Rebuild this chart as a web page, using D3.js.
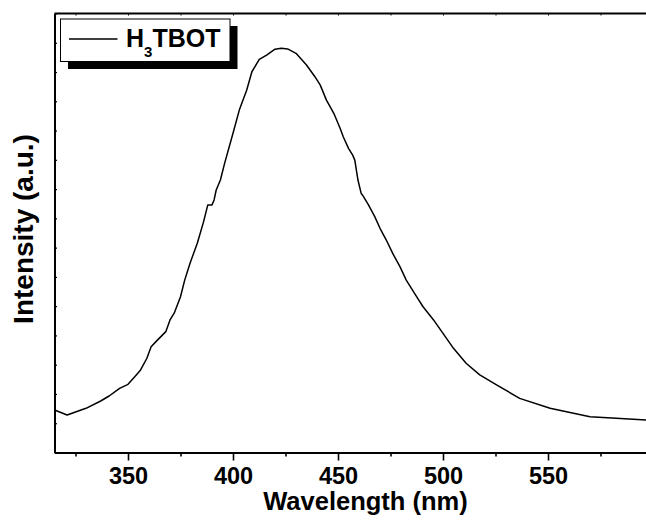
<!DOCTYPE html>
<html>
<head>
<meta charset="utf-8">
<script src="https://cdn.jsdelivr.net/npm/d3@7"></script>
<style>
  html, body { margin: 0; padding: 0; background: #fff; }
  svg { display: block; font-family: "Liberation Sans", Arial, sans-serif; }
</style>
</head>
<body>
<svg id="chart" width="646" height="525"></svg>
<script>
// Emission spectrum of H3TBOT
const wavelength = [315, 321, 330, 337, 341, 346, 350, 353, 356, 359, 361, 364, 368, 370, 372, 375, 377, 379.5, 383, 386,
  388, 390, 391, 392, 394, 396, 400, 403, 406.5, 409, 412.5, 416, 420, 423, 426, 430, 435, 439, 441.5, 444.5,
  448, 451, 452.5, 455, 457, 458, 459.5, 461, 462, 464.5, 467.5, 470, 473, 476, 479.5, 482.5, 487.5, 490.5, 495.5,
  500, 505, 511, 517.5, 525.5, 536.5, 551, 570, 582.5, 597];
const intensity = [145, 128, 151, 176, 193, 219, 233, 257, 282, 322, 361, 384, 413, 453, 476, 532, 589, 646, 715, 789,
  846, 846, 863, 897, 931, 988, 1091, 1170, 1238, 1301, 1343, 1358, 1378, 1381, 1379, 1364, 1324, 1284, 1256, 1204,
  1159, 1108, 1079, 1039, 1016, 999, 931, 886, 876, 846, 806, 766, 726, 681, 635, 589, 532, 498, 453,
  407, 356, 305, 265, 231, 185, 151, 122, 117, 111];
const xMajorTicks = [350, 400, 450, 500, 550];
const xMinorTicks = [325, 375, 425, 475, 525, 575];
const yTicks = d3.range(0, 1501, 100);
const seriesName = "H";

const svg = d3.select("#chart");
const plotLeft = 54.5, plotTop = 13.5, plotBottom = 452.5;

const x = d3.scaleLinear().domain([315, 598]).range([plotLeft, plotLeft + 283 * 2.1]);
const y = d3.scaleLinear().domain([0, 1500]).range([plotBottom, plotTop]);

svg.append("defs").append("clipPath").attr("id", "plotClip")
  .append("rect").attr("x", plotLeft).attr("y", plotTop)
  .attr("width", x.range()[1] - plotLeft).attr("height", plotBottom - plotTop);

// Frame
svg.append("line").attr("x1", plotLeft).attr("x2", 660).attr("y1", plotTop).attr("y2", plotTop)
  .attr("stroke", "#000").attr("stroke-width", 1.8);

// Bottom axis: outward major and minor ticks
const xAxis = d3.axisBottom(x).tickValues(xMajorTicks).tickSize(8).tickSizeOuter(0).tickPadding(7);
const gx = svg.append("g").attr("transform", `translate(0,${plotBottom})`).call(xAxis);
gx.select(".domain").attr("stroke-width", 2);
gx.selectAll(".tick line").attr("stroke-width", 1.6);
gx.selectAll(".tick text").attr("font-size", 23.5).attr("font-weight", "bold")
  .attr("font-family", "Liberation Sans, Arial, sans-serif").attr("fill", "#000");
const xMinor = d3.axisBottom(x).tickValues(xMinorTicks).tickSize(4).tickFormat("").tickSizeOuter(0);
const gxm = svg.append("g").attr("transform", `translate(0,${plotBottom})`).call(xMinor);
gxm.select(".domain").remove();
gxm.selectAll(".tick line").attr("stroke-width", 1.6);

// Top axis: small inward ticks
const xTop = d3.axisBottom(x).tickValues(xMajorTicks.concat(xMinorTicks)).tickSize(2).tickFormat("").tickSizeOuter(0);
const gxt = svg.append("g").attr("transform", `translate(0,${plotTop})`).call(xTop);
gxt.select(".domain").remove();

// Left axis: small inward ticks, no labels
const yAxis = d3.axisRight(y).tickValues(yTicks).tickSize(2.5).tickFormat("").tickSizeOuter(0);
const gy = svg.append("g").attr("transform", `translate(${plotLeft},0)`).call(yAxis);
gy.select(".domain").attr("stroke-width", 2);
gy.selectAll(".tick line").attr("stroke-width", 1.2);

// Spectrum
const line = d3.line().x((d, i) => x(wavelength[i])).y(d => y(d));
svg.append("path").datum(intensity)
  .attr("clip-path", "url(#plotClip)")
  .attr("d", line)
  .attr("fill", "none").attr("stroke", "#000").attr("stroke-width", 1.5)
  .attr("stroke-linejoin", "round");

// Axis titles
svg.append("text").attr("x", 365.5).attr("y", 510).attr("text-anchor", "middle")
  .attr("font-size", 25.5).attr("font-weight", "bold").text("Wavelength (nm)");
svg.append("text").attr("transform", "translate(33,229) rotate(-90)").attr("text-anchor", "middle")
  .attr("font-size", 28).attr("font-weight", "bold").text("Intensity (a.u.)");

// Legend with drop shadow
const lg = svg.append("g");
lg.append("rect").attr("x", 68).attr("y", 26).attr("width", 169.5).attr("height", 43).attr("fill", "#000");
lg.append("rect").attr("x", 60.5).attr("y", 19).attr("width", 169.5).attr("height", 42.5)
  .attr("fill", "#fff").attr("stroke", "#000").attr("stroke-width", 1);
lg.append("line").attr("x1", 69).attr("x2", 117.5).attr("y1", 39).attr("y2", 39)
  .attr("stroke", "#000").attr("stroke-width", 1.5);
const lt = lg.append("text").attr("x", 126).attr("y", 46.5).attr("font-size", 25).attr("font-weight", "bold");
lt.append("tspan").text(seriesName);
lt.append("tspan").attr("font-size", 15).attr("dy", 10.5).text("3");
lt.append("tspan").attr("dy", -10.5).text("TBOT");
</script>
</body>
</html>
